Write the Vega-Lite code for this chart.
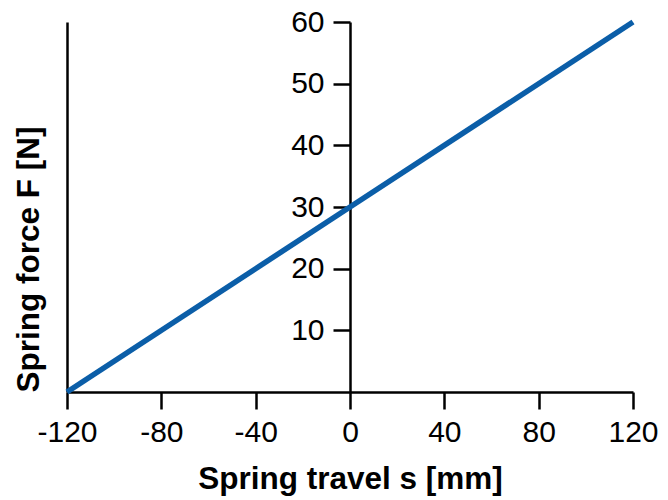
{
  "$schema": "https://vega.github.io/schema/vega-lite/v6.json",
  "width": 566,
  "height": 370,
  "autosize": {"type": "none"},
  "padding": {"left": 67, "top": 22, "right": 35, "bottom": 108},
  "background": "white",
  "config": {
    "view": {"stroke": null},
    "font": "Liberation Sans",
    "axis": {
      "domainColor": "black",
      "tickColor": "black",
      "labelColor": "black",
      "titleColor": "black",
      "domainWidth": 2.5,
      "tickWidth": 2.5,
      "grid": false,
      "labelFont": "Liberation Sans",
      "titleFont": "Liberation Sans",
      "labelFontSize": 30,
      "titleFontSize": 31.5,
      "titleFontWeight": "bold",
      "labelFlush": false,
      "labelOverlap": false
    }
  },
  "data": {"values": [
    {"s": -120, "F": 0},
    {"s": 0, "F": 30},
    {"s": 120, "F": 60}
  ]},
  "layer": [
    {
      "mark": {"type": "line", "color": "#0b5ea8", "strokeWidth": 5.5, "clip": false},
      "encoding": {
        "x": {"field": "s", "type": "quantitative",
              "scale": {"domain": [-120, 120], "nice": false, "zero": false},
              "axis": {"orient": "bottom", "values": [-120, -80, -40, 0, 40, 80, 120],
                       "labelExpr": "'' + datum.value",
                       "tickSize": 17, "labelPadding": 8, "title": "Spring travel s [mm]",
                       "titlePadding": 16}},
        "y": {"field": "F", "type": "quantitative",
              "scale": {"domain": [0, 60], "nice": false},
              "axis": {"orient": "left", "offset": -283, "values": [10, 20, 30, 40, 50, 60],
                       "tickSize": 17, "labelPadding": 9, "title": null}}
      }
    },
    {
      "mark": {"type": "line", "opacity": 0},
      "encoding": {
        "x": {"field": "s", "type": "quantitative"},
        "y": {"field": "F", "type": "quantitative",
              "axis": {"orient": "left", "labels": false, "ticks": false,
                       "title": "Spring force F [N]", "titleAnchor": "start",
                       "titlePadding": 22}}
      }
    }
  ],
  "resolve": {"axis": {"y": "independent"}}
}
